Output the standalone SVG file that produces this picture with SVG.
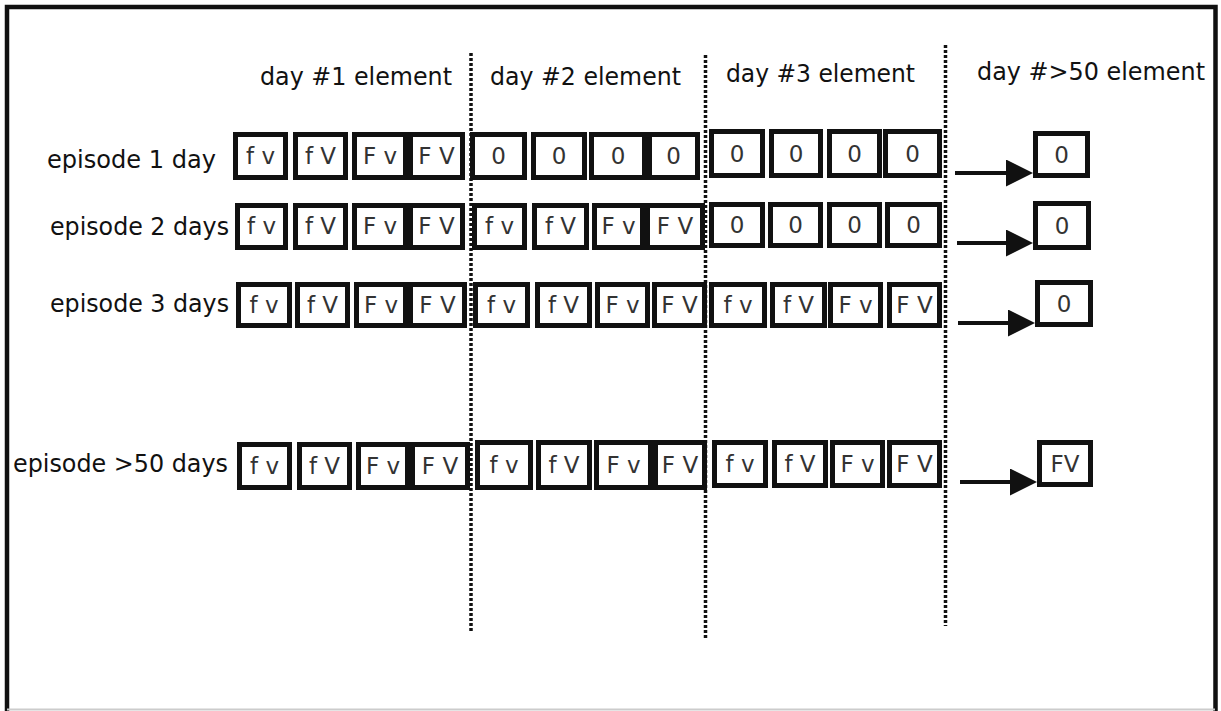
<svg xmlns="http://www.w3.org/2000/svg" width="1221" height="711" viewBox="0 0 1221 711">
<style>
.lbl{font-family:"DejaVu Sans","Liberation Sans",sans-serif;font-size:24px;fill:#111}
.bx{fill:#fff;stroke:#111;stroke-width:5}
.bt{font-family:"DejaVu Sans","Liberation Sans",sans-serif;font-size:23px;fill:#333;text-anchor:middle}
.dot{stroke:#111;stroke-width:3.5;stroke-dasharray:3 2;fill:none}
.arr{stroke:#111;stroke-width:4;fill:none}
</style>
<defs>
<marker id="ah" markerUnits="userSpaceOnUse" markerWidth="28" markerHeight="28" refX="14" refY="13.5" orient="auto" viewBox="0 0 28 28">
<path d="M0,0 L27,13.5 L0,27 Z" fill="#111"/>
</marker>
</defs>
<rect width="1221" height="711" fill="#fff"/>
<g id="frame">
<path d="M7,711 V7 H1215.5 V711" fill="none" stroke="#111" stroke-width="4.5"/>
<line x1="7" y1="709.5" x2="1215" y2="709.5" stroke="#ccc" stroke-width="2"/>
</g>
<g id="headers">
<text class="lbl" x="260" y="85" textLength="192" lengthAdjust="spacingAndGlyphs">day #1 element</text>
<text class="lbl" x="490" y="85" textLength="191" lengthAdjust="spacingAndGlyphs">day #2 element</text>
<text class="lbl" x="726" y="82" textLength="189" lengthAdjust="spacingAndGlyphs">day #3 element</text>
<text class="lbl" x="977" y="80" textLength="228" lengthAdjust="spacingAndGlyphs">day #&gt;50 element</text>
</g>
<g id="row-labels">
<text class="lbl" x="47" y="168" textLength="169" lengthAdjust="spacingAndGlyphs">episode 1 day</text>
<text class="lbl" x="50" y="235" textLength="179" lengthAdjust="spacingAndGlyphs">episode 2 days</text>
<text class="lbl" x="50" y="312" textLength="179" lengthAdjust="spacingAndGlyphs">episode 3 days</text>
<text class="lbl" x="13" y="472" textLength="215" lengthAdjust="spacingAndGlyphs">episode &gt;50 days</text>
</g>
<!-- Row 1 -->
<g id="r1">
<g id="r1d1b1"><rect class="bx" x="235.5" y="134.5" width="50" height="43"/><text class="bt" x="260.5" y="164">f v</text></g>
<g id="r1d1b2"><rect class="bx" x="295.5" y="134.5" width="50" height="43"/><text class="bt" x="320.5" y="164">f V</text></g>
<g id="r1d1b3"><rect class="bx" x="354.5" y="134.5" width="51" height="43"/><text class="bt" x="380" y="164">F v</text></g>
<g id="r1d1b4"><rect class="bx" x="410.5" y="134.5" width="52" height="43"/><text class="bt" x="436.5" y="164">F V</text></g>
<g id="r1d2b1"><rect class="bx" x="472.5" y="134.5" width="52" height="43"/><text class="bt" x="498.5" y="164">0</text></g>
<g id="r1d2b2"><rect class="bx" x="533.5" y="134.5" width="51" height="43"/><text class="bt" x="559" y="164">0</text></g>
<g id="r1d2b3"><rect class="bx" x="591.5" y="134.5" width="53" height="43"/><text class="bt" x="618" y="164">0</text></g>
<g id="r1d2b4"><rect class="bx" x="649.5" y="134.5" width="48" height="43"/><text class="bt" x="673.5" y="164">0</text></g>
<g id="r1d3b1"><rect class="bx" x="711.5" y="131.5" width="51" height="44"/><text class="bt" x="737" y="161.5">0</text></g>
<g id="r1d3b2"><rect class="bx" x="771.5" y="131.5" width="49" height="44"/><text class="bt" x="796" y="161.5">0</text></g>
<g id="r1d3b3"><rect class="bx" x="829.5" y="131.5" width="50" height="44"/><text class="bt" x="854.5" y="161.5">0</text></g>
<g id="r1d3b4"><rect class="bx" x="885.5" y="131.5" width="54" height="44"/><text class="bt" x="912.5" y="161.5">0</text></g>
<g id="r1last"><rect class="bx" x="1035.5" y="133.5" width="52" height="42"/><text class="bt" x="1061.5" y="162.5">0</text></g>
</g>
<!-- Row 2 -->
<g id="r2">
<g id="r2d1b1"><rect class="bx" x="237.5" y="205.5" width="48" height="42"/><text class="bt" x="261.5" y="234">f v</text></g>
<g id="r2d1b2"><rect class="bx" x="295.5" y="205.5" width="50" height="42"/><text class="bt" x="320.5" y="234">f V</text></g>
<g id="r2d1b3"><rect class="bx" x="354.5" y="205.5" width="51" height="42"/><text class="bt" x="380" y="234">F v</text></g>
<g id="r2d1b4"><rect class="bx" x="410.5" y="205.5" width="52" height="42"/><text class="bt" x="436.5" y="234">F V</text></g>
<g id="r2d2b1"><rect class="bx" x="474.5" y="205.5" width="50" height="42"/><text class="bt" x="499.5" y="234">f v</text></g>
<g id="r2d2b2"><rect class="bx" x="534.5" y="205.5" width="52" height="42"/><text class="bt" x="560.5" y="234">f V</text></g>
<g id="r2d2b3"><rect class="bx" x="594.5" y="205.5" width="48" height="42"/><text class="bt" x="618.5" y="234">F v</text></g>
<g id="r2d2b4"><rect class="bx" x="647.5" y="205.5" width="55" height="42"/><text class="bt" x="675" y="234">F V</text></g>
<g id="r2d3b1"><rect class="bx" x="711.5" y="204.5" width="51" height="41"/><text class="bt" x="737" y="233">0</text></g>
<g id="r2d3b2"><rect class="bx" x="770.5" y="204.5" width="50" height="41"/><text class="bt" x="795.5" y="233">0</text></g>
<g id="r2d3b3"><rect class="bx" x="829.5" y="204.5" width="50" height="41"/><text class="bt" x="854.5" y="233">0</text></g>
<g id="r2d3b4"><rect class="bx" x="887.5" y="204.5" width="52" height="41"/><text class="bt" x="913.5" y="233">0</text></g>
<g id="r2last"><rect class="bx" x="1035.5" y="203.5" width="53" height="44"/><text class="bt" x="1062" y="233.5">0</text></g>
</g>
<!-- Row 3 -->
<g id="r3">
<g id="r3d1b1"><rect class="bx" x="238.5" y="284.5" width="51" height="41"/><text class="bt" x="264" y="313">f v</text></g>
<g id="r3d1b2"><rect class="bx" x="297.5" y="284.5" width="50" height="41"/><text class="bt" x="322.5" y="313">f V</text></g>
<g id="r3d1b3"><rect class="bx" x="356.5" y="284.5" width="49" height="41"/><text class="bt" x="381" y="313">F v</text></g>
<g id="r3d1b4"><rect class="bx" x="410.5" y="284.5" width="54" height="41"/><text class="bt" x="437.5" y="313">F V</text></g>
<g id="r3d2b1"><rect class="bx" x="475.5" y="284.5" width="52" height="41"/><text class="bt" x="501.5" y="313">f v</text></g>
<g id="r3d2b2"><rect class="bx" x="537.5" y="284.5" width="52" height="41"/><text class="bt" x="563.5" y="313">f V</text></g>
<g id="r3d2b3"><rect class="bx" x="597.5" y="284.5" width="50" height="41"/><text class="bt" x="622.5" y="313">F v</text></g>
<g id="r3d2b4"><rect class="bx" x="654.5" y="284.5" width="50" height="41"/><text class="bt" x="679.5" y="313">F V</text></g>
<g id="r3d3b1"><rect class="bx" x="711.5" y="284.5" width="53" height="41"/><text class="bt" x="738" y="313">f v</text></g>
<g id="r3d3b2"><rect class="bx" x="772.5" y="284.5" width="52" height="41"/><text class="bt" x="798.5" y="313">f V</text></g>
<g id="r3d3b3"><rect class="bx" x="830.5" y="284.5" width="50" height="41"/><text class="bt" x="855.5" y="313">F v</text></g>
<g id="r3d3b4"><rect class="bx" x="889.5" y="284.5" width="50" height="41"/><text class="bt" x="914.5" y="313">F V</text></g>
<g id="r3last"><rect class="bx" x="1037.5" y="282.5" width="53" height="42"/><text class="bt" x="1064" y="311.5">0</text></g>
</g>
<!-- Row 4 -->
<g id="r4">
<g id="r4d1b1"><rect class="bx" x="239.5" y="444.5" width="50" height="43"/><text class="bt" x="264.5" y="474">f v</text></g>
<g id="r4d1b2"><rect class="bx" x="299.5" y="444.5" width="50" height="43"/><text class="bt" x="324.5" y="474">f V</text></g>
<g id="r4d1b3"><rect class="bx" x="358.5" y="444.5" width="49" height="43"/><text class="bt" x="383" y="474">F v</text></g>
<g id="r4d1b4"><rect class="bx" x="412.5" y="444.5" width="55" height="43"/><text class="bt" x="440" y="474">F V</text></g>
<g id="r4d2b1"><rect class="bx" x="477.5" y="442.5" width="53" height="45"/><text class="bt" x="504" y="473">f v</text></g>
<g id="r4d2b2"><rect class="bx" x="538.5" y="442.5" width="51" height="45"/><text class="bt" x="564" y="473">f V</text></g>
<g id="r4d2b3"><rect class="bx" x="596.5" y="442.5" width="54" height="45"/><text class="bt" x="623.5" y="473">F v</text></g>
<g id="r4d2b4"><rect class="bx" x="655.5" y="442.5" width="49" height="45"/><text class="bt" x="680" y="473">F V</text></g>
<g id="r4d3b1"><rect class="bx" x="714.5" y="442.5" width="51" height="43"/><text class="bt" x="740" y="472">f v</text></g>
<g id="r4d3b2"><rect class="bx" x="774.5" y="442.5" width="51" height="43"/><text class="bt" x="800" y="472">f V</text></g>
<g id="r4d3b3"><rect class="bx" x="832.5" y="442.5" width="50" height="43"/><text class="bt" x="857.5" y="472">F v</text></g>
<g id="r4d3b4"><rect class="bx" x="889.5" y="442.5" width="50" height="43"/><text class="bt" x="914.5" y="472">F V</text></g>
<g id="r4last"><rect class="bx" x="1039.5" y="442.5" width="51" height="42"/><text class="bt" x="1065" y="472">FV</text></g>
</g>
<g id="connectors">
<line class="dot" x1="471" y1="53" x2="471" y2="633"/>
<line class="dot" x1="705.5" y1="55" x2="705.5" y2="638"/>
<line class="dot" x1="945.5" y1="45" x2="945.5" y2="626"/>
<line class="arr" x1="955" y1="173" x2="1020" y2="173" marker-end="url(#ah)"/>
<line class="arr" x1="957" y1="243" x2="1020" y2="243" marker-end="url(#ah)"/>
<line class="arr" x1="958" y1="323" x2="1022" y2="323" marker-end="url(#ah)"/>
<line class="arr" x1="960" y1="482" x2="1024" y2="482" marker-end="url(#ah)"/>
</g>
</svg>
